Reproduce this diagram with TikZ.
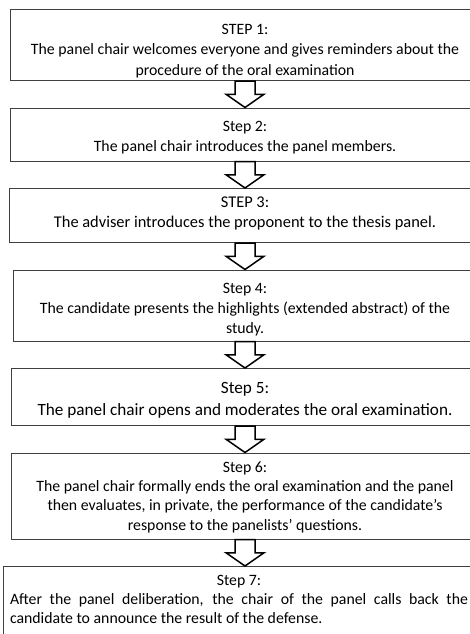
\documentclass[tikz,border=0pt]{standalone}
\usepackage{fontspec}
\setmainfont{Carlito}
\usetikzlibrary{positioning, calc}

\begin{document}
\begin{tikzpicture}[x=1pt,y=1pt,node distance=26.5pt,
    stepbox/.style={draw=black!75, line width=1pt, inner xsep=5pt, inner ysep=0pt, align=flush center,
        text height=23pt, text depth=#1, font=\fontsize{15.8}{20.3}\selectfont},
    blockarrow/.style={draw, line width=1.5pt,
        to path={let \p1=(\tikztostart), \p2=(\tikztotarget), \n1={0.5*(\y1+\y2)} in
            (\x1-10pt,\y1) -- (\x1+10pt,\y1) -- (\x1+10pt,\n1) -- (\x1+19pt,\n1) -- (\x1,\y2)
            -- (\x1-19pt,\n1) -- (\x1-10pt,\n1) -- cycle}}]
  \useasboundingbox (0,0) rectangle (470,-634);
  \node[stepbox=46pt, text height=25pt, text width=460pt, anchor=north] (s1) at (245,-9)
      {STEP 1:\\The panel chair welcomes everyone and gives reminders about the\\procedure of the oral examination};
  \node[stepbox=30pt, text width=460pt]   (s2) [below=of s1] {Step 2:\\The panel chair introduces the panel members.};
  \node[stepbox=35pt, text height=19pt, text width=462pt, font=\fontsize{16.4}{20}\selectfont]
      (s3) [below=of s2] {STEP 3:\\The adviser introduces the proponent to the thesis panel.};
  \node[stepbox=48pt, text width=454pt]   (s4) [below=of s3]
      {Step 4:\\The candidate presents the highlights (extended abstract) of the\\study.};
  \node[stepbox=32pt, text height=25pt, text width=458pt, font=\fontsize{17.2}{22}\selectfont]
      (s5) [below=of s4] {Step 5:\\The panel chair opens and moderates the oral examination.};
  \node[stepbox=67pt, text height=19pt, text width=458pt, font=\fontsize{15.8}{19.4}\selectfont]
      (s6) [below=of s5]
      {Step 6:\\The panel chair formally ends the oral examination and the panel\\then evaluates, in private, the performance of the candidate’s\\response to the panelists’ questions.};
  \node[stepbox=52pt, text height=19pt, text width=458pt, inner xsep=7pt, align=justify,
        font=\fontsize{15.8}{19}\selectfont] (s7) [below=of s6, xshift=-6pt]
      {{\centering Step 7:\par}After the panel deliberation, the chair of the panel calls back the\linebreak candidate to announce the result of the defense.};
  \path (s1.south) edge[blockarrow] (s2.north);
  \path (s2.south) edge[blockarrow] (s3.north);
  \path (s3.south) edge[blockarrow] (s4.north);
  \path (s4.south) edge[blockarrow] (s5.north);
  \path (s5.south) edge[blockarrow] (s6.north);
  \path (s6.south) edge[blockarrow] (s7.north);
\end{tikzpicture}
\end{document}
